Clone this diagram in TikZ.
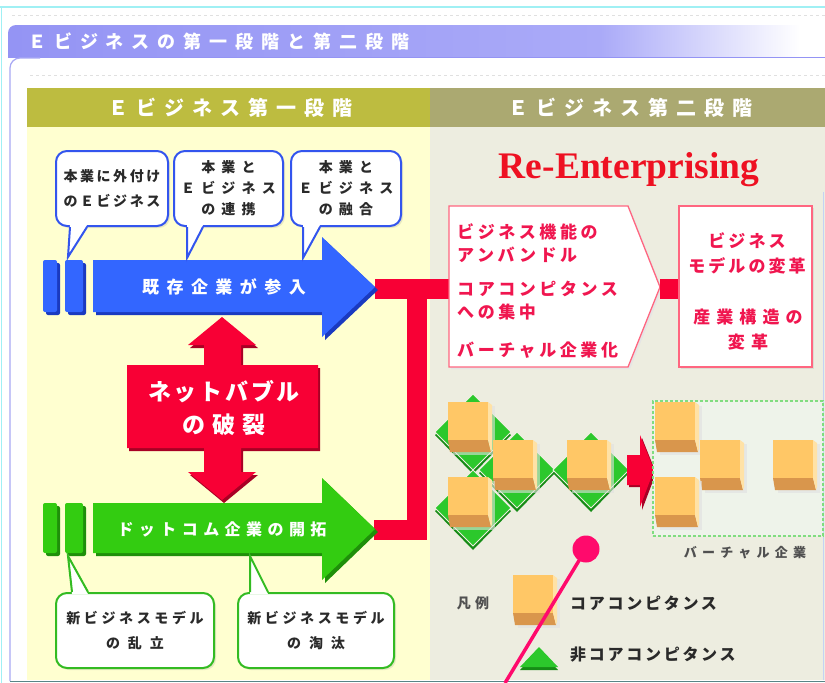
\documentclass[tikz,border=0pt]{standalone}
\usepackage{fontspec}
\setmainfont{Liberation Serif}
\newfontfamily\jpf{Noto Sans CJK JP}
\usetikzlibrary{calc,shadows}

\definecolor{cyanL}{HTML}{A0F0F4}
\definecolor{tbA}{HTML}{9494F4}
\definecolor{tbB}{HTML}{AAAAF8}
\definecolor{lavL}{HTML}{A8A8F4}
\definecolor{oliveA}{HTML}{BDBC40}
\definecolor{oliveB}{HTML}{ABA971}
\definecolor{yelP}{HTML}{FFFFD0}
\definecolor{beigeP}{HTML}{EDEDE0}
\definecolor{blueA}{HTML}{3366FF}
\definecolor{blueD}{HTML}{1A3AC0}
\definecolor{greenA}{HTML}{33CC11}
\definecolor{greenD}{HTML}{1F8F0A}
\definecolor{redA}{HTML}{F80035}
\definecolor{redD}{HTML}{A80024}
\definecolor{pinkB}{HTML}{FF6680}
\definecolor{pinkT}{HTML}{F0164F}
\definecolor{calB}{HTML}{3355EE}
\definecolor{calG}{HTML}{33BB22}
\definecolor{cubeL}{HTML}{FFC766}
\definecolor{cubeD}{HTML}{D9964C}
\definecolor{cubeS}{HTML}{FFE2A6}
\definecolor{gemL}{HTML}{2CC82C}
\definecolor{gemD}{HTML}{168C16}
\definecolor{vfill}{HTML}{EEF3EA}
\definecolor{dashG}{HTML}{80DD80}
\definecolor{pinP}{HTML}{FF0A6C}
\definecolor{txtD}{HTML}{2A2A2A}
\definecolor{txtG}{HTML}{505050}
\definecolor{reTxt}{HTML}{EE1122}
\definecolor{edgeB}{HTML}{C4D2F4}

\tikzset{
  jp/.style n args={3}{font=\jpf\bfseries\fontsize{#1}{#2}\selectfont\addfontfeature{LetterSpace=#3}, inner sep=0pt},
  callbox/.style={draw=#1, line width=2pt, fill=white, rounded corners=11pt,
    drop shadow={opacity=0.18, shadow xshift=2pt, shadow yshift=-2pt},
    anchor=north west, minimum height=75pt, align=center, text=txtD},
  redbar/.style={draw=redA, line width=20pt},
  vcube/.pic={
    \fill[black!12, opacity=.6] (5,4) rectangle (47,53);
    \fill[cubeD] (0,38) -- (40,38) -- (43,50) -- (2,50) -- cycle;
    \fill[cubeS] (40,0) -- (44,3) -- (44,47) -- (43,50) -- (40,38) -- cycle;
    \fill[cubeL] (0,0) rectangle (40,38);
  },
  gem/.pic={
    \fill[gemD] (0,-35) -- (38,3) -- (0,42) -- (-38,3) -- cycle;
    \fill[gemL, draw=beigeP, line width=0.8pt] (0,-38) -- (38,0) -- (0,38) -- (-38,0) -- cycle;
  }
}

\begin{document}
\begin{tikzpicture}[x=1pt, y=-1pt]
\useasboundingbox (0,0) rectangle (825,683);
\fill[white] (0,0) rectangle (825,683);

% outer frame and faint rules
\draw[cyanL, line width=1.2pt] (0,7) -- (825,7);
\draw[cyanL, line width=1.5pt] (1.5,7) -- (1.5,683);
\draw[black!12, dash pattern=on 3pt off 3pt] (12,15) -- (825,15);
\draw[black!12, dash pattern=on 3pt off 3pt] (30,75) -- (825,75);

% title bar
\begin{scope}
  \clip[rounded corners=8pt] (8,25) rectangle (860,80);
  \shade[left color=tbA, right color=tbB] (8,25) rectangle (600,57);
  \shade[left color=tbB, right color=white] (600,25) rectangle (800,57);
  \fill[white] (800,25) rectangle (825,57);
\end{scope}
\draw[tbA, line width=1pt] (8,57.5) -- (825,57.5);
\draw[lavL, line width=1.2pt, rounded corners=10pt] (10,681) -- (10,58) -- (40,58);
\node[jp={18}{20}{44}, text=white, anchor=west] (title) at (28,42) {Ｅビジネスの第一段階と第二段階};

% stage panels
\fill[oliveA] (27,88) rectangle (430,127);
\fill[oliveB] (430,88) rectangle (825,127);
\fill[yelP] (27,127) rectangle (430,680);
\fill[beigeP] (430,127) rectangle (825,680);
\draw[edgeB, line width=1.5pt] (823.5,192) -- (823.5,680);
\draw[black!45!cyanL, line width=1.5pt] (10,681.5) -- (825,681.5);
\node[jp={20}{22}{40}, text=white] (h1) at (230,108) {Ｅビジネス第一段階};
\node[jp={20}{22}{40}, text=white] (h2) at (630,108) {Ｅビジネス第二段階};
\node[font=\bfseries\fontsize{37.5}{40}\selectfont, text=reTxt, anchor=base, inner sep=0pt] (re) at (629,178) {Re-Enterprising};

% red connector between the two stages
\coordinate (btip) at (375,289);
\coordinate (gtip) at (374,530);
\coordinate (p1w) at (450,289);
\coordinate (p1e) at (660,289);
\draw[redbar] (gtip) -| (417,289);
\draw[redbar] (btip) -- (p1w);

% blue arrow: existing companies
\begin{scope}[shift={(3,3)}]
  \fill[blueD, rounded corners=2pt] (43,260) rectangle (57,312);
  \fill[blueD, rounded corners=2pt] (65,260) rectangle (83,312);
  \fill[blueD] (93,260) -- (322,260) -- (322,237) -- (375,287) -- (322,337) -- (322,312) -- (93,312) -- cycle;
\end{scope}
\fill[blueA, rounded corners=2pt] (43,260) rectangle (57,312);
\fill[blueA, rounded corners=2pt] (65,260) rectangle (83,312);
\fill[blueA] (93,260) -- (322,260) -- (322,237) -- (375,287) -- (322,337) -- (322,312) -- (93,312) -- cycle;
\node[jp={17}{19}{44}, text=white] (bt) at (224,287) {既存企業が参入};

% green arrow: dot-com companies
\begin{scope}[shift={(3,3)}]
  \fill[greenD, rounded corners=2pt] (43,503) rectangle (57,553);
  \fill[greenD, rounded corners=2pt] (65,503) rectangle (83,553);
  \fill[greenD] (93,503) -- (322,503) -- (322,478) -- (375,529) -- (322,580) -- (322,553) -- (93,553) -- cycle;
\end{scope}
\fill[greenA, rounded corners=2pt] (43,503) rectangle (57,553);
\fill[greenA, rounded corners=2pt] (65,503) rectangle (83,553);
\fill[greenA] (93,503) -- (322,503) -- (322,478) -- (375,529) -- (322,580) -- (322,553) -- (93,553) -- cycle;
\node[jp={16}{18}{34}, text=white] (gt) at (222,529) {ドットコム企業の開拓};

% net bubble burst: double-headed arrow with a box
\fill[redD] (224,320) -- (258,348) -- (243,348) -- (243,368) -- (320,368) -- (320,451) -- (243,451) -- (243,475) -- (258,475) -- (224,503) -- (190,475) -- (206,475) -- (206,451) -- (129,451) -- (129,368) -- (206,368) -- (206,348) -- (190,348) -- cycle;
\fill[redA] (222,317) -- (256,345) -- (241,345) -- (241,365) -- (318,365) -- (318,448) -- (241,448) -- (241,472) -- (256,472) -- (222,500) -- (188,472) -- (204,472) -- (204,448) -- (127,448) -- (127,365) -- (204,365) -- (204,345) -- (188,345) -- cycle;
\node[jp={23}{33}{12}, text=white, align=center] (nb) at (224,408) {ネットバブル\\{\addfontfeature{LetterSpace=30}の破裂}};

% callouts above the blue arrow
\node[callbox=calB, minimum width=112pt, jp={14}{25}{18}] (c1) at (55,150) {本業に外付け\\のＥビジネス};
\node[callbox=calB, minimum width=109pt, jp={14}{21}{44}] (c2) at (173,150) {本業と\\Ｅビジネス\\の連携};
\node[callbox=calB, minimum width=110pt, jp={14}{21}{44}] (c3) at (290,150) {本業と\\Ｅビジネス\\の融合};
\coordinate (c1t) at (68,257);
\coordinate (c2t) at (187,258);
\coordinate (c3t) at (303,258);
\fill[white] ([xshift=15pt,yshift=2pt]c1.south west) -- (c1t) -- ([xshift=32pt,yshift=2pt]c1.south west) -- cycle;
\draw[calB, line width=2pt] ([xshift=15pt]c1.south west) -- (c1t) -- ([xshift=32pt]c1.south west);
\fill[white] ([xshift=14pt,yshift=2pt]c2.south west) -- (c2t) -- ([xshift=30pt,yshift=2pt]c2.south west) -- cycle;
\draw[calB, line width=2pt] ([xshift=14pt]c2.south west) -- (c2t) -- ([xshift=30pt]c2.south west);
\fill[white] ([xshift=13pt,yshift=2pt]c3.south west) -- (c3t) -- ([xshift=30pt,yshift=2pt]c3.south west) -- cycle;
\draw[calB, line width=2pt] ([xshift=13pt]c3.south west) -- (c3t) -- ([xshift=30pt]c3.south west);

% callouts below the green arrow
\node[callbox=calG, minimum width=158pt, jp={14}{25}{26}] (d1) at (55,592) {新ビジネスモデル\\{\addfontfeature{LetterSpace=57}の乱立}};
\node[callbox=calG, minimum width=156pt, jp={14}{25}{26}] (d2) at (237,592) {新ビジネスモデル\\{\addfontfeature{LetterSpace=57}の淘汰}};
\coordinate (d1t) at (68,556);
\coordinate (d2t) at (250,556);
\fill[white] ([xshift=17pt,yshift=-2pt]d1.north west) -- (d1t) -- ([xshift=33pt,yshift=-2pt]d1.north west) -- cycle;
\draw[calG, line width=2pt] ([xshift=17pt]d1.north west) -- (d1t) -- ([xshift=33pt]d1.north west);
\fill[white] ([xshift=13pt,yshift=-2pt]d2.north west) -- (d2t) -- ([xshift=31pt,yshift=-2pt]d2.north west) -- cycle;
\draw[calG, line width=2pt] ([xshift=13pt]d2.north west) -- (d2t) -- ([xshift=31pt]d2.north west);

% second stage: re-enterprising boxes
\fill[black!10] (451,208) -- (630,208) -- (662,289) -- (630,369) -- (451,369) -- cycle;
\filldraw[fill=white, draw=pinkB, line width=1.3pt] (449,206) -- (628,206) -- (660,287) -- (628,367) -- (449,367) -- cycle;
\node[draw=pinkB, line width=1.3pt, fill=white, minimum width=133pt, minimum height=161pt,
      drop shadow={opacity=0.15, shadow xshift=2pt, shadow yshift=-2pt}] (p2) at (745.5,286.5) {};
\draw[redbar] (p1e) -- (p1e -| p2.west);
\node[jp={17}{23}{21}, text=pinkT, align=left, anchor=west] (t1a) at (457,243.5) {ビジネス機能の\\アンバンドル};
\node[jp={17}{23}{21}, text=pinkT, align=left, anchor=west] (t1b) at (457,301) {コアコンピタンス\\への集中};
\node[jp={17}{23}{21}, text=pinkT, align=left, anchor=west] (t1c) at (457,350) {バーチャル企業化};
\node[jp={17}{25}{18}, text=pinkT, align=center] (t2a) at (747,253) {ビジネス\\モデルの変革};
\node[jp={17}{25}{36}, text=pinkT, align=center] (t2b) at (748,330) {産業構造の\\変革};

% core competence blocks on green diamonds
\pic at (473,432) {gem};
\pic at (473,508) {gem};
\pic at (517,470) {gem};
\pic at (591,470) {gem};
\pic at (448,402) {vcube};
\pic at (493,440) {vcube};
\pic at (448,477) {vcube};
\pic at (567,440) {vcube};

% transition arrow
\fill[redD] (629,457) -- (642,457) -- (642,438) -- (656,473) -- (642,510) -- (642,487) -- (629,487) -- cycle;
\fill[redA] (627,455) -- (640,455) -- (640,435) -- (654,470) -- (640,507) -- (640,485) -- (627,485) -- cycle;

% virtual company
\node[draw=dashG, dash pattern=on 3pt off 2pt, line width=1.5pt, fill=vfill, minimum width=170pt, minimum height=135pt, anchor=north west, inner sep=0pt] (vbox) at (652,400) {};
\pic at (655,402) {vcube};
\pic at (700,440) {vcube};
\pic at (773,440) {vcube};
\pic at (655,477) {vcube};
\node[jp={13}{15}{40}, text=txtG] (vt) at (745,553) {バーチャル企業};

% legend
\node[jp={14}{16}{32}, text=txtG] (lg) at (473,603) {凡例};
\pic at (513,575) {vcube};
\node[jp={16}{18}{17}, text=txtD, anchor=west] (lgc) at (570,603) {コアコンピタンス};
\fill[gemD] (520,670) -- (539,650) -- (558,670) -- cycle;
\fill[gemL] (520,667) -- (539,647) -- (558,667) -- cycle;
\node[jp={16}{18}{17}, text=txtD, anchor=west] (lgn) at (570,655) {非コアコンピタンス};

% pin marker
\coordinate (pinEnd) at (505,683);
\node[circle, fill=pinP, minimum size=27pt, inner sep=0pt] (pin) at (586,549) {};
\draw[pinP, line width=3.5pt] (pin.center) -- (pinEnd);
\end{tikzpicture}
\end{document}
